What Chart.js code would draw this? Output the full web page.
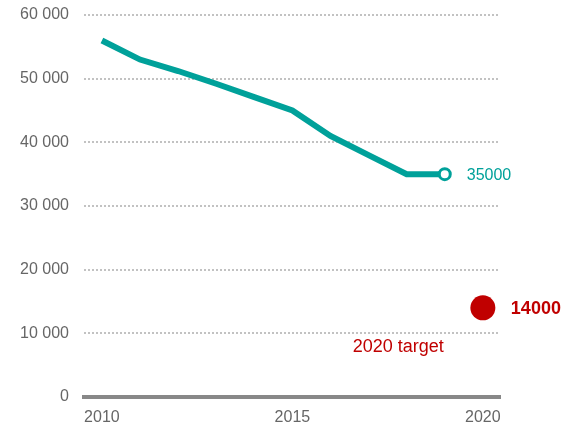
<!DOCTYPE html>
<html>
<head>
<meta charset="utf-8">
<script src="https://cdn.jsdelivr.net/npm/chart.js@4"></script>
<style>
  html, body { margin: 0; padding: 0; background: #fff; }
  #wrap { width: 563px; height: 428px; }
</style>
</head>
<body>
<div id="wrap"><canvas id="chart"></canvas></div>
<script>
const years = [2010, 2011, 2012, 2013, 2014, 2015, 2016, 2017, 2018, 2019];
const values = [56000, 53000, 51200, 49200, 47100, 45000, 41000, 38000, 35000, 35000];
const targetYear = [2020];
const targetValue = [14000];
const xTickLabels = [2010, 2015, 2020];
const yTicks = [0, 10000, 20000, 30000, 40000, 50000, 60000];

const teal = '#00a19a';
const red = '#c00000';
const font = "'Liberation Sans', Arial, sans-serif";

const labelsPlugin = {
  id: 'labels',
  afterDatasetsDraw(chart) {
    const { ctx, scales } = chart;
    const lastX = scales.x.getPixelForValue(years[years.length - 1]);
    const lastY = scales.y.getPixelForValue(values[values.length - 1]);
    const tx = scales.x.getPixelForValue(targetYear[0]);
    const ty = scales.y.getPixelForValue(targetValue[0]);
    ctx.save();
    ctx.textBaseline = 'middle';
    ctx.textAlign = 'left';
    ctx.fillStyle = teal;
    ctx.font = `16px ${font}`;
    ctx.fillText(String(values[values.length - 1]), lastX + 22, lastY + 1);
    ctx.fillStyle = red;
    ctx.font = `bold 18px ${font}`;
    ctx.fillText(String(targetValue[0]), tx + 28, ty + 1);
    ctx.font = `18px ${font}`;
    ctx.textAlign = 'right';
    ctx.fillText('2020 target', tx - 39, ty + 39);
    ctx.restore();
  }
};

const ctx = document.getElementById('chart').getContext('2d');
new Chart(ctx, {
  type: 'line',
  data: {
    datasets: [{
      data: years.map((y, i) => ({ x: y, y: values[i] })),
      borderColor: teal,
      borderWidth: 6,
      tension: 0,
      pointRadius: years.map((y, i) => i === years.length - 1 ? 5.5 : 0),
      pointBackgroundColor: '#fff',
      pointBorderColor: teal,
      pointBorderWidth: 3
    }, {
      data: targetYear.map((y, i) => ({ x: y, y: targetValue[i] })),
      showLine: false,
      pointRadius: 12.5,
      pointBackgroundColor: red,
      pointBorderColor: red,
      pointBorderWidth: 0
    }]
  },
  options: {
    responsive: true,
    maintainAspectRatio: false,
    animation: false,
    layout: { padding: { top: 15, right: 63, left: 0, bottom: 0 } },
    plugins: { legend: { display: false }, tooltip: { enabled: false } },
    scales: {
      x: {
        type: 'linear',
        min: 2009.53,
        max: 2020.45,
        afterBuildTicks: s => { s.ticks = xTickLabels.map(v => ({ value: v })); },
        afterFit: s => { s.height = 31; s.paddingLeft = 0; s.paddingRight = 0; },
        grid: { display: false, drawTicks: false },
        border: { display: true, color: '#888', width: 4 },
        ticks: {
          color: '#666',
          font: { family: font, size: 16 },
          padding: 11,
          maxRotation: 0,
          callback: v => String(v)
        }
      },
      y: {
        min: 0,
        max: 60000,
        afterBuildTicks: s => { s.ticks = yTicks.map(v => ({ value: v })); },
        afterFit: s => { s.width = 84; s.paddingTop = 0; s.paddingBottom = 0; },
        border: { display: false, dash: [2, 2] },
        grid: {
          drawTicks: false,
          color: c => c.tick.value === 0 ? 'rgba(0,0,0,0)' : '#c2c2c2',
          lineWidth: 2
        },
        ticks: {
          color: '#666',
          font: { family: font, size: 16 },
          padding: 15,
          callback: v => v === 0 ? '0' : String(v).replace(/\B(?=(\d{3})+(?!\d))/g, ' ')
        }
      }
    }
  },
  plugins: [labelsPlugin]
});
</script>
</body>
</html>
